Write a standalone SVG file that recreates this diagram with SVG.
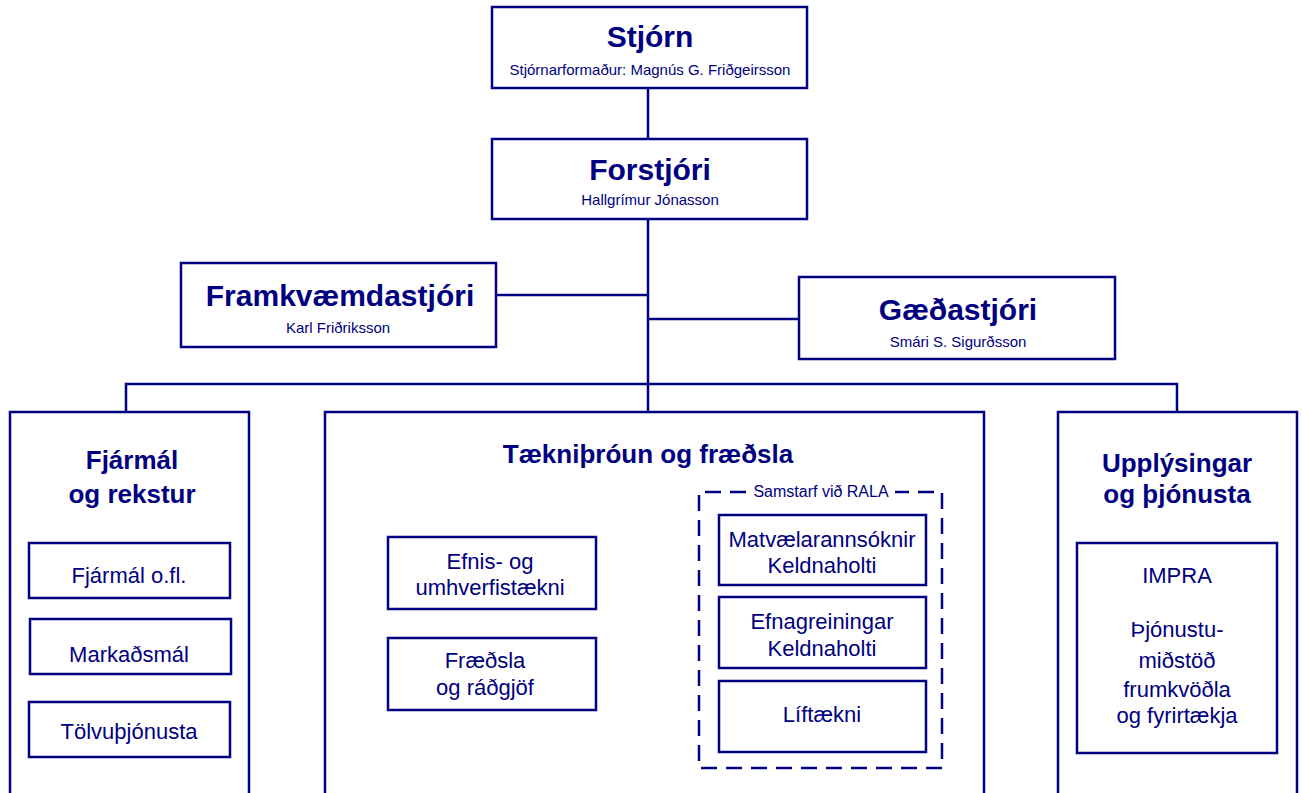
<svg xmlns="http://www.w3.org/2000/svg" width="1303" height="793" viewBox="0 0 1303 793">
<style>
.box{fill:#fff;stroke:#000080;stroke-width:2.5}
.dash{fill:none;stroke:#000080;stroke-width:2.5;stroke-dasharray:16 9}
.ln{fill:none;stroke:#000080;stroke-width:2.5}
text{font-family:"Liberation Sans",Arial,sans-serif;fill:#000080;text-anchor:middle}
.t1{font-size:30px;font-weight:bold}
.t2{font-size:26px;font-weight:bold}
.st{font-size:15px}
.r{font-size:22px}
.lab{font-size:16px}
</style>
<rect width="1303" height="793" fill="#fff"/>
<g id="connectors">
<path class="ln" d="M648 88V139M648 219V412M496 295H648M648 319H799M126 412V384H1177V412M126 598V619M126 674V702"/>
</g>
<g id="stjorn">
<rect class="box" x="492" y="7" width="315" height="81"/>
<text class="t1" x="650" y="47">Stjórn</text>
<text class="st" x="650" y="75">Stjórnarformaður: Magnús G. Friðgeirsson</text>
</g>
<g id="forstjori">
<rect class="box" x="492" y="139" width="315" height="80"/>
<text class="t1" x="650" y="180">Forstjóri</text>
<text class="st" x="650" y="205">Hallgrímur Jónasson</text>
</g>
<g id="framkvaemdastjori">
<rect class="box" x="181" y="263" width="315" height="84"/>
<text class="t1" x="340" y="306">Framkvæmdastjóri</text>
<text class="st" x="338" y="333">Karl Friðriksson</text>
</g>
<g id="gaedastjori">
<rect class="box" x="799" y="277" width="316" height="82"/>
<text class="t1" x="958" y="320">Gæðastjóri</text>
<text class="st" x="958" y="347">Smári S. Sigurðsson</text>
</g>
<g id="fjarmal">
<rect class="box" x="10" y="412" width="239" height="400"/>
<text class="t2" x="132" y="469">Fjármál</text>
<text class="t2" x="132" y="503">og rekstur</text>
</g>
<g id="fjarmal-ofl">
<rect class="box" x="29" y="543" width="201" height="55"/>
<text class="r" x="129" y="583">Fjármál o.fl.</text>
</g>
<g id="markadsmal">
<rect class="box" x="30" y="619" width="201" height="55"/>
<text class="r" x="129" y="662">Markaðsmál</text>
</g>
<g id="tolvuthjonusta">
<rect class="box" x="29" y="702" width="201" height="55"/>
<text class="r" x="129" y="739">Tölvuþjónusta</text>
</g>
<g id="taekni">
<rect class="box" x="325" y="412" width="659" height="400"/>
<text class="t2" x="648" y="463">Tækniþróun og fræðsla</text>
</g>
<g id="samstarf">
<path class="dash" d="M746 492H699V768H942V492H895"/>
<text class="lab" x="821" y="497">Samstarf við RALA</text>
</g>
<g id="efnis">
<rect class="box" x="388" y="537" width="208" height="72"/>
<text class="r" x="490" y="569">Efnis- og</text>
<text class="r" x="490" y="595">umhverfistækni</text>
</g>
<g id="fraedsla">
<rect class="box" x="388" y="638" width="208" height="72"/>
<text class="r" x="485" y="668">Fræðsla</text>
<text class="r" x="485" y="695">og ráðgjöf</text>
</g>
<g id="matvaela">
<rect class="box" x="719" y="515" width="207" height="70"/>
<text class="r" x="822" y="547">Matvælarannsóknir</text>
<text class="r" x="822" y="573">Keldnaholti</text>
</g>
<g id="efnagreiningar">
<rect class="box" x="719" y="597" width="207" height="71"/>
<text class="r" x="822" y="629">Efnagreiningar</text>
<text class="r" x="822" y="656">Keldnaholti</text>
</g>
<g id="liftaekni">
<rect class="box" x="719" y="681" width="207" height="71"/>
<text class="r" x="822" y="722">Líftækni</text>
</g>
<g id="upplysingar">
<rect class="box" x="1058" y="412" width="239" height="400"/>
<text class="t2" x="1177" y="472">Upplýsingar</text>
<text class="t2" x="1177" y="503">og þjónusta</text>
</g>
<g id="impra">
<rect class="box" x="1077" y="543" width="200" height="210"/>
<text class="r" x="1177" y="583">IMPRA</text>
<text class="r" x="1177" y="637">Þjónustu-</text>
<text class="r" x="1177" y="668">miðstöð</text>
<text class="r" x="1177" y="697">frumkvöðla</text>
<text class="r" x="1177" y="723">og fyrirtækja</text>
</g>
</svg>
